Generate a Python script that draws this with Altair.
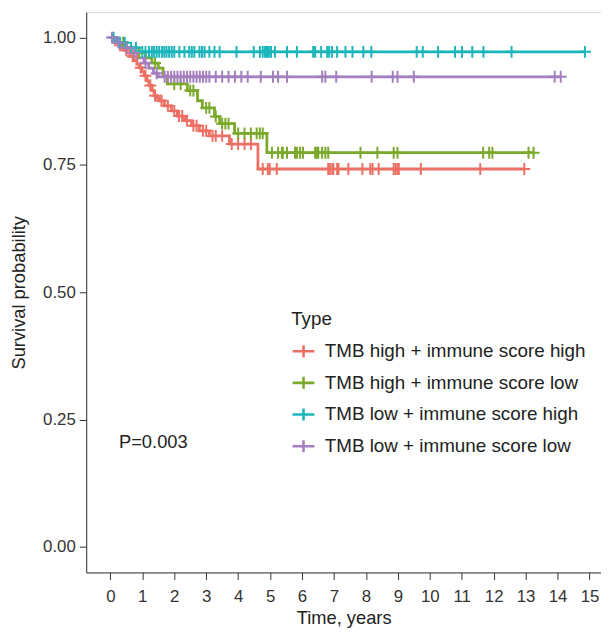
import altair as alt
import pandas as pd

groups = ["TMB high + immune score high", "TMB high + immune score low",
          "TMB low + immune score high", "TMB low + immune score low"]
colors = ["#EE6F63", "#7BA92B", "#1BB5BB", "#A47FBF"]

# TMB high + immune score high
red_event_t = [0.11, 0.2, 0.27, 0.33, 0.43, 0.52, 0.61, 0.74, 0.83, 0.90, 0.99, 1.06, 1.15, 1.21,
               1.31, 1.37, 1.46, 1.53, 1.69, 1.91, 2.10, 2.32, 2.54, 2.79, 3.10, 3.73, 4.62]
red_event_s = [0.995, 0.99, 0.985, 0.980, 0.975, 0.970, 0.963, 0.955, 0.948, 0.941, 0.933, 0.925,
               0.915, 0.906, 0.896, 0.886, 0.881, 0.876, 0.866, 0.856, 0.846, 0.837, 0.827, 0.817,
               0.807, 0.791, 0.742]
red_censor_t = [0.3, 0.5, 0.7, 0.95, 1.1, 1.25, 1.4, 1.6, 1.8, 2.0, 2.15, 2.25, 2.4, 2.6, 2.7, 2.9,
                3.0, 3.2, 3.3, 3.5, 3.8, 4.0, 4.2, 4.4, 4.77, 4.93, 4.99, 5.21, 6.82, 6.88, 6.95,
                6.98, 7.10, 7.14, 7.45, 7.89, 8.14, 8.21, 8.40, 8.87, 8.93, 8.99, 9.03, 9.72,
                11.58, 12.96]

# TMB high + immune score low
green_event_t = [0.15, 0.5, 0.8, 1.1, 1.3, 1.5, 1.65, 1.78, 2.41, 2.73, 2.88, 3.26, 3.42, 3.89, 4.90]
green_event_s = [0.99, 0.98, 0.97, 0.96, 0.95, 0.94, 0.925, 0.909, 0.896, 0.876, 0.862, 0.845,
                 0.831, 0.812, 0.774]
green_censor_t = [0.4, 0.9, 1.4, 2.0, 2.2, 2.5, 2.6, 3.0, 3.1, 3.3, 3.5, 3.6, 3.7, 4.0, 4.2, 4.4,
                  4.58, 4.68, 4.77, 5.06, 5.25, 5.37, 5.40, 5.53, 5.78, 5.84, 5.94, 6.03, 6.41,
                  6.47, 6.51, 6.63, 6.73, 6.82, 7.83, 8.36, 8.87, 8.99, 11.67, 11.86, 11.96,
                  13.09, 13.25]

# TMB low + immune score high
teal_event_t = [0.2, 0.5, 0.9]
teal_event_s = [0.99, 0.98, 0.972]
teal_censor_t = [0.1, 0.3, 0.45, 0.65, 0.8, 1.0, 1.1, 1.21, 1.3, 1.37, 1.45, 1.53, 1.62, 1.69,
                 1.76, 1.84, 1.92, 2.0, 2.16, 2.32, 2.47, 2.55, 2.63, 2.79, 2.87, 2.95, 3.10,
                 3.26, 3.42, 3.95, 4.49, 4.68, 4.77, 4.84, 4.90, 4.93, 4.96, 5.03, 5.15, 5.53,
                 5.84, 6.35, 6.41, 6.60, 6.79, 6.85, 6.94, 7.10, 7.36, 7.58, 7.92, 8.17, 9.59,
                 9.78, 10.26, 10.79, 11.01, 11.33, 11.68, 12.56, 14.86]

# TMB low + immune score low
purple_event_t = [0.15, 0.4, 0.65, 0.85, 1.05, 1.2, 1.35, 1.5]
purple_event_s = [0.99, 0.98, 0.97, 0.96, 0.95, 0.94, 0.93, 0.923]
purple_censor_t = [0.05, 0.25, 0.5, 0.75, 1.1, 1.45, 1.7, 1.8, 1.9, 2.0, 2.1, 2.2, 2.3, 2.4, 2.5,
                   2.6, 2.7, 2.8, 2.9, 3.0, 3.1, 3.3, 3.5, 3.7, 3.9, 4.1, 4.3, 4.71, 5.09, 5.25,
                   5.53, 6.63, 6.73, 7.07, 8.18, 8.84, 8.99, 9.50, 13.91, 14.10]

x_ticks = [0, 1, 2, 3, 4, 5, 6, 7, 8, 9, 10, 11, 12, 13, 14, 15]
y_ticks = [0, 0.25, 0.5, 0.75, 1.0]

p_label = ["P=0.003"]
p_x = [0.27]
p_y = [0.205]

series = [
    (groups[0], red_event_t, red_event_s, red_censor_t),
    (groups[1], green_event_t, green_event_s, green_censor_t),
    (groups[2], teal_event_t, teal_event_s, teal_censor_t),
    (groups[3], purple_event_t, purple_event_s, purple_censor_t),
]


def surv_at(t, ev_t, ev_s):
    s = 1.0
    for et, es in zip(ev_t, ev_s):
        if et <= t:
            s = es
    return s


line_rows, cens_rows = [], []
for order, (g, et, es, ct) in enumerate(series):
    end_t = max(ct)
    line_rows.append({"group": g, "t": 0.0, "s": 1.0, "o": order, "i": 0})
    for i, (a, b) in enumerate(zip(et, es)):
        line_rows.append({"group": g, "t": a, "s": b, "o": order, "i": i + 1})
    line_rows.append({"group": g, "t": end_t, "s": surv_at(end_t, et, es), "o": order,
                      "i": len(et) + 1})
    for c in ct:
        cens_rows.append({"group": g, "t": c, "s": surv_at(c, et, es), "o": order})

lines_df = pd.DataFrame(line_rows)
cens_df = pd.DataFrame(cens_rows)
p_df = pd.DataFrame({"label": p_label, "x": p_x, "y": p_y})

FONT = "Liberation Sans"
xscale = alt.Scale(domain=[-0.756, 15.36], nice=False, zero=False)
yscale = alt.Scale(domain=[-0.05, 1.05], nice=False, zero=False)
cscale = alt.Scale(domain=groups, range=colors)

xaxis = alt.Axis(values=x_ticks, title="Time, years", grid=False, labelFontSize=17,
                 titleFontSize=18.5, titleFontWeight="normal", labelColor="#333",
                 titleColor="#222", domainColor="#333", tickColor="#333", tickSize=7,
                 labelPadding=9, titlePadding=5, labelFont=FONT, titleFont=FONT,
                 labelFlush=False, labelOverlap=False, tickCount=16, format="d")
yaxis = alt.Axis(values=y_ticks, format=".2f", title="Survival probability",
                 grid=False, labelFontSize=17, titleFontSize=18.5, titleFontWeight="normal",
                 labelColor="#333", titleColor="#222", domainColor="#333", tickColor="#333",
                 tickSize=7, labelPadding=4, titlePadding=14, labelFont=FONT, titleFont=FONT,
                 labelOverlap=False)

legend = alt.Legend(title="Type", orient="none", legendX=207, legendY=301,
                    symbolType="M-1,0H1M0,-0.55V0.55", symbolSize=484, symbolStrokeWidth=2.6,
                    symbolFillColor="transparent", labelFontSize=19, titleFontSize=19,
                    titleFontWeight="normal", labelFont=FONT, titleFont=FONT,
                    labelColor="#222", titleColor="#222", labelOffset=9, rowPadding=8,
                    titlePadding=10, padding=0, labelLimit=400)

X = alt.X("t:Q", scale=xscale, axis=xaxis)
Y = alt.Y("s:Q", scale=yscale, axis=yaxis)

lines = alt.Chart(lines_df).mark_line(interpolate="step-after", strokeWidth=2.8).encode(
    x=X, y=Y,
    color=alt.Color("group:N", scale=cscale, legend=legend),
    order="i:Q",
    detail="o:N",
)

cens = alt.Chart(cens_df).mark_point(shape="M-1,0H1M0,-1V1", size=144, filled=False,
                                     strokeWidth=2, opacity=1).encode(
    x=X, y=Y,
    color=alt.Color("group:N", scale=cscale, legend=None),
)

ptext = alt.Chart(p_df).mark_text(align="left", baseline="middle", fontSize=18.5, font=FONT,
                                  color="#222").encode(
    x=alt.X("x:Q", scale=xscale, axis=xaxis),
    y=alt.Y("y:Q", scale=yscale, axis=yaxis),
    text="label:N",
)

chart = alt.layer(lines, cens, ptext).properties(
    width=520, height=566,
    autosize=alt.AutoSizeParams(type="none"),
    padding={"left": 79, "top": 1, "right": 0, "bottom": 57},
).configure_view(stroke=None).configure(background="white")

chart.save("out.html", embed_options={"renderer": "svg", "actions": False})
